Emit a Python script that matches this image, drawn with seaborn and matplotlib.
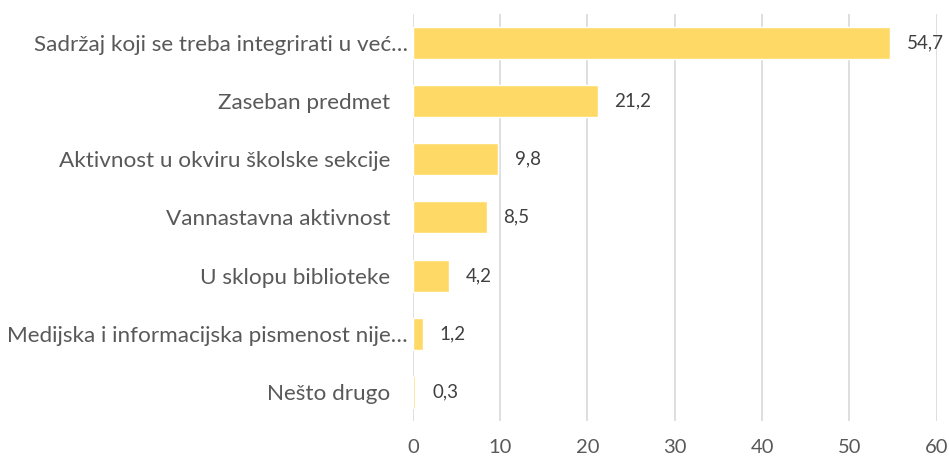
import matplotlib
matplotlib.use("Agg")
import matplotlib.pyplot as plt
import matplotlib.transforms as mtransforms
import seaborn as sns
import pandas as pd

categories = [
    "Sadržaj koji se treba integrirati u već…",
    "Zaseban predmet",
    "Aktivnost u okviru školske sekcije",
    "Vannastavna aktivnost",
    "U sklopu biblioteke",
    "Medijska i informacijska pismenost nije…",
    "Nešto drugo",
]
values = [54.7, 21.2, 9.8, 8.5, 4.2, 1.2, 0.3]
value_labels = ["54,7", "21,2", "9,8", "8,5", "4,2", "1,2", "0,3"]
xticks = [0, 10, 20, 30, 40, 50, 60]

sns.set_theme(style="white")
plt.rcParams["font.family"] = ["Lato", "DejaVu Sans"]

df = pd.DataFrame({"cat": categories, "val": values})

fig = plt.figure(figsize=(9.49, 4.62), dpi=100)
ax = fig.add_axes([0.435, 0.089, 0.552, 0.881])

sns.barplot(data=df, y="cat", x="val", color="#FFD966", saturation=1,
            width=0.55, ax=ax, zorder=3)

ax.set_xlim(0, 60)
ax.set_xticks(xticks)
ax.set_xticklabels([str(t) for t in xticks])
ax.grid(axis="x", color="#D9D9D9", linewidth=1.2, zorder=0)
ax.set_axisbelow(True)
for s in ax.spines.values():
    s.set_visible(False)
ax.set_xlabel("")
ax.set_ylabel("")
ax.tick_params(axis="both", length=0, colors="#595959")
ax.tick_params(axis="y", labelsize=16.2, pad=16)
ax.tick_params(axis="x", labelsize=14.5, pad=13)

# truncated labels extend further right (as in the original)
shift = mtransforms.ScaledTranslation(17 / 100, 0, fig.dpi_scale_trans)
for lbl in ax.get_yticklabels():
    if lbl.get_text().endswith("…"):
        lbl.set_transform(lbl.get_transform() + shift)

for i, (v, lab) in enumerate(zip(values, value_labels)):
    ax.text(v + 1.9, i, lab, va="center", ha="left", fontsize=13.5,
            color="#404040")

fig.savefig("out.png", dpi=100)
